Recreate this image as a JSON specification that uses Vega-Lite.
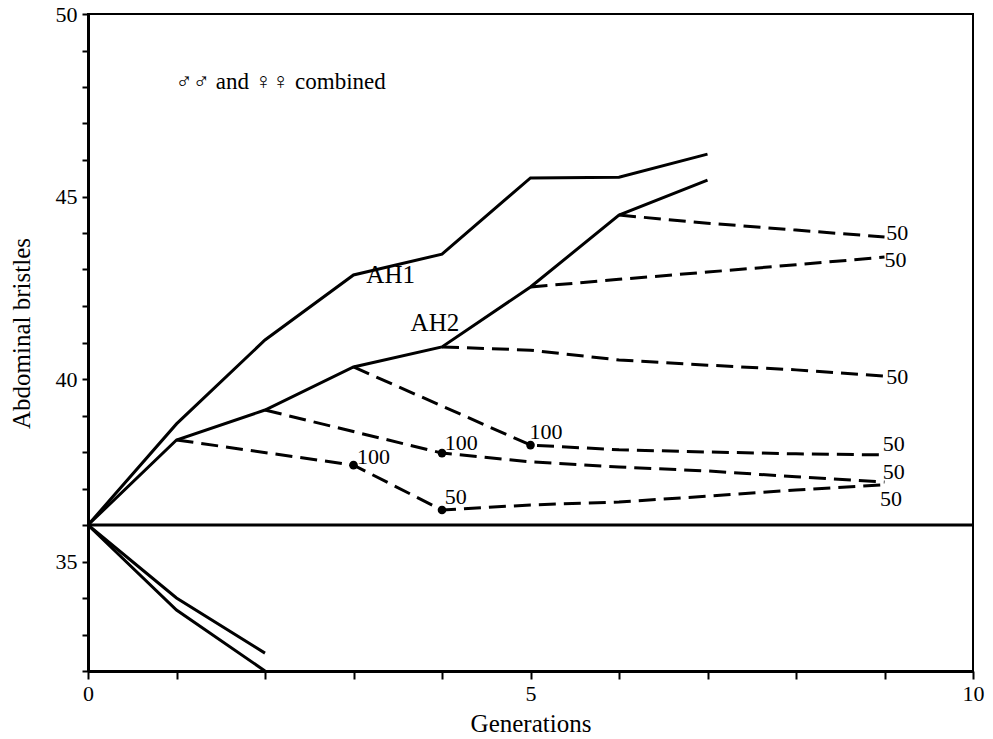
{
  "$schema": "https://vega.github.io/schema/vega-lite/v6.json",
  "width": 885,
  "height": 657,
  "autosize": {"type": "none"},
  "padding": {"left": 88, "top": 14, "right": 20, "bottom": 68},
  "background": "white",
  "config": {
    "view": {"stroke": "black", "strokeWidth": 2},
    "font": "Liberation Serif, DejaVu Serif, serif",
    "axis": {
      "grid": false,
      "domainColor": "black",
      "domainWidth": 3,
      "tickColor": "black",
      "tickWidth": 2,
      "labelColor": "black",
      "labelFont": "Liberation Serif, DejaVu Serif, serif",
      "labelFontSize": 22,
      "labelFlush": false,
      "labelOverlap": false,
      "titleColor": "black",
      "titleFont": "Liberation Serif, DejaVu Serif, serif",
      "titleFontSize": 25,
      "titleFontWeight": "normal"
    }
  },
  "datasets": {
    "solid": [
      {"series": "AH1", "g": 0, "v": 36},
      {"series": "AH1", "g": 1, "v": 38.77},
      {"series": "AH1", "g": 2, "v": 41.07},
      {"series": "AH1", "g": 3, "v": 42.85},
      {"series": "AH1", "g": 4, "v": 43.42},
      {"series": "AH1", "g": 5, "v": 45.51},
      {"series": "AH1", "g": 6, "v": 45.53},
      {"series": "AH1", "g": 7, "v": 46.16},
      {"series": "AH2", "g": 0, "v": 36},
      {"series": "AH2", "g": 1, "v": 38.33},
      {"series": "AH2", "g": 2, "v": 39.15},
      {"series": "AH2", "g": 3, "v": 40.33},
      {"series": "AH2", "g": 4, "v": 40.88},
      {"series": "AH2", "g": 5, "v": 42.52},
      {"series": "AH2", "g": 6, "v": 44.49},
      {"series": "AH2", "g": 7, "v": 45.45},
      {"series": "AL1", "g": 0, "v": 36},
      {"series": "AL1", "g": 1, "v": 34.0},
      {"series": "AL1", "g": 2, "v": 32.49},
      {"series": "AL2", "g": 0, "v": 36},
      {"series": "AL2", "g": 1, "v": 33.67},
      {"series": "AL2", "g": 2, "v": 32.0},
      {"series": "base", "g": 0, "v": 36},
      {"series": "base", "g": 10, "v": 36}
    ],
    "dashed": [
      {"series": "R1", "g": 1, "v": 38.33},
      {"series": "R1", "g": 3, "v": 37.64},
      {"series": "R1", "g": 4, "v": 36.41},
      {"series": "R1", "g": 5, "v": 36.55},
      {"series": "R1", "g": 6, "v": 36.63},
      {"series": "R1", "g": 7, "v": 36.79},
      {"series": "R1", "g": 8, "v": 36.96},
      {"series": "R1", "g": 9, "v": 37.1},
      {"series": "R2", "g": 2, "v": 39.15},
      {"series": "R2", "g": 4, "v": 37.97},
      {"series": "R2", "g": 5, "v": 37.73},
      {"series": "R2", "g": 6, "v": 37.59},
      {"series": "R2", "g": 7, "v": 37.48},
      {"series": "R2", "g": 8, "v": 37.32},
      {"series": "R2", "g": 9, "v": 37.18},
      {"series": "R3", "g": 3, "v": 40.33},
      {"series": "R3", "g": 5, "v": 38.19},
      {"series": "R3", "g": 6, "v": 38.06},
      {"series": "R3", "g": 7, "v": 38.0},
      {"series": "R3", "g": 8, "v": 37.95},
      {"series": "R3", "g": 9, "v": 37.92},
      {"series": "R4", "g": 4, "v": 40.88},
      {"series": "R4", "g": 5, "v": 40.79},
      {"series": "R4", "g": 6, "v": 40.52},
      {"series": "R4", "g": 7, "v": 40.38},
      {"series": "R4", "g": 8, "v": 40.25},
      {"series": "R4", "g": 9, "v": 40.08},
      {"series": "R5", "g": 5, "v": 42.52},
      {"series": "R5", "g": 6, "v": 42.73},
      {"series": "R5", "g": 7, "v": 42.93},
      {"series": "R5", "g": 8, "v": 43.13},
      {"series": "R5", "g": 9, "v": 43.34},
      {"series": "R6", "g": 6, "v": 44.49},
      {"series": "R6", "g": 7, "v": 44.27},
      {"series": "R6", "g": 8, "v": 44.08},
      {"series": "R6", "g": 9, "v": 43.89}
    ],
    "dots": [
      {"g": 3, "v": 37.64},
      {"g": 4, "v": 37.97},
      {"g": 5, "v": 38.19},
      {"g": 4, "v": 36.41}
    ],
    "numlabels": [
      {"g": 3.04, "v": 37.86, "t": "100"},
      {"g": 4.03, "v": 38.25, "t": "100"},
      {"g": 4.99, "v": 38.55, "t": "100"},
      {"g": 4.03, "v": 36.77, "t": "50"},
      {"g": 9.02, "v": 44.0, "t": "50"},
      {"g": 9.0, "v": 43.26, "t": "50"},
      {"g": 9.02, "v": 40.05, "t": "50"},
      {"g": 8.98, "v": 38.23, "t": "50"},
      {"g": 8.98, "v": 37.45, "t": "50"},
      {"g": 8.95, "v": 36.71, "t": "50"}
    ],
    "linelabels": [
      {"g": 3.42, "v": 42.85, "t": "AH1"},
      {"g": 3.92, "v": 41.53, "t": "AH2"}
    ],
    "note": [
      {"g": 0.99, "v": 48.14, "t": "♂♂ and ♀♀ combined"}
    ]
  },
  "encoding": {
    "x": {
      "field": "g",
      "type": "quantitative",
      "scale": {"domain": [0, 10], "nice": false, "zero": false},
      "axis": {
        "title": "Generations",
        "values": [0, 1, 2, 3, 4, 5, 6, 7, 8, 9, 10],
        "labelExpr": "datum.value % 5 === 0 ? datum.label : ''",
        "tickSize": 8,
        "labelPadding": 4,
        "titleY": 52,
        "titleBaseline": "middle"
      }
    },
    "y": {
      "field": "v",
      "type": "quantitative",
      "scale": {"domain": [32, 50], "nice": false, "zero": false},
      "axis": {
        "title": "Abdominal bristles",
        "values": [32, 33, 34, 35, 36, 37, 38, 39, 40, 41, 42, 43, 44, 45, 46, 47, 48, 49, 50],
        "labelExpr": "datum.value % 5 === 0 ? datum.label : ''",
        "tickSize": 6,
        "labelPadding": 5,
        "titleX": -67,
        "titleY": 319,
        "titleBaseline": "middle"
      }
    }
  },
  "layer": [
    {
      "data": {"name": "solid"},
      "mark": {"type": "line", "color": "black", "strokeWidth": 3, "strokeJoin": "miter"},
      "encoding": {"detail": {"field": "series", "type": "nominal"}}
    },
    {
      "data": {"name": "dashed"},
      "mark": {"type": "line", "color": "black", "strokeWidth": 3, "strokeDash": [17, 8]},
      "encoding": {"detail": {"field": "series", "type": "nominal"}}
    },
    {
      "data": {"name": "dots"},
      "mark": {"type": "point", "filled": true, "color": "black", "size": 75, "opacity": 1},
      "encoding": {}
    },
    {
      "data": {"name": "numlabels"},
      "mark": {"type": "text", "align": "left", "baseline": "middle", "fontSize": 22, "font": "Liberation Serif, DejaVu Serif, serif", "color": "black"},
      "encoding": {"text": {"field": "t"}}
    },
    {
      "data": {"name": "linelabels"},
      "mark": {"type": "text", "align": "center", "baseline": "middle", "fontSize": 25, "font": "Liberation Serif, DejaVu Serif, serif", "color": "black"},
      "encoding": {"text": {"field": "t"}}
    },
    {
      "data": {"name": "note"},
      "mark": {"type": "text", "align": "left", "baseline": "middle", "fontSize": 23, "font": "Liberation Serif, DejaVu Serif, serif", "color": "black"},
      "encoding": {"text": {"field": "t"}}
    }
  ]
}
